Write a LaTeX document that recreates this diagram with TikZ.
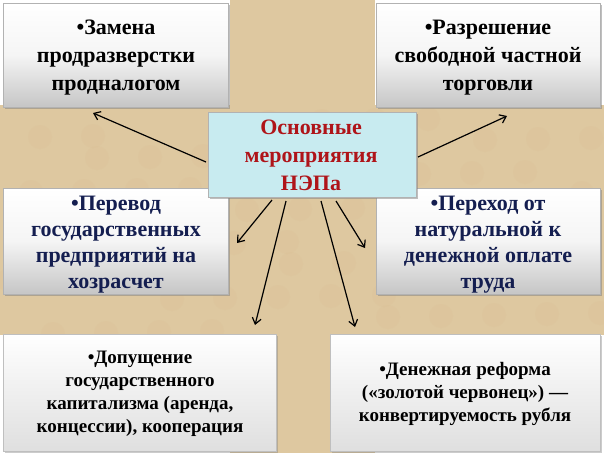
\documentclass[tikz,border=0pt]{standalone}
\usepackage{fontspec}
\setmainfont{Liberation Serif}
\usetikzlibrary{shadows,arrows.meta}
\definecolor{beige}{RGB}{222,200,160}
\definecolor{navy}{RGB}{20,30,80}
\definecolor{redt}{RGB}{175,20,25}
\definecolor{cyanb}{RGB}{200,235,240}
\begin{document}
\begin{tikzpicture}[x=1pt,y=-1pt,
  box/.style={draw=gray!60,line width=0.6pt,top color=white,bottom color=gray!45,middle color=gray!8,
    drop shadow={opacity=0.5,shadow xshift=2pt,shadow yshift=-2pt}},
  lbox/.style={draw=gray!50,line width=0.6pt,top color=white,bottom color=gray!25,
    drop shadow={opacity=0.4,shadow xshift=2pt,shadow yshift=-2pt}},
  txt/.style={font=\bfseries\fontsize{22}{28}\selectfont,align=center},
  mtxt/.style={font=\bfseries\fontsize{22}{26}\selectfont,align=center,text=navy},
  stxt/.style={font=\bfseries\fontsize{19}{23}\selectfont,align=center},
  arr/.style={-{Straight Barb[length=6pt,width=9pt]},line width=1.2pt}]
\useasboundingbox (0,0) rectangle (604,453);
\fill[white] (0,0) rectangle (604,453);
\fill[beige] (230,0) rectangle (375,453);
\fill[beige] (0,105) rectangle (604,335);
\foreach \i in {1,...,60}{\fill[beige!80!brown,opacity=0.15] ({mod(\i*97,604)},{105+mod(\i*53,230)}) circle (12);}
% boxes
\path[box] (3,3) rectangle (228,107);
\path[box] (376,3) rectangle (600,107);
\path[box] (3,188) rectangle (228,294);
\path[box] (376,188) rectangle (600,294);
\path[lbox] (3,334) rectangle (276,451);
\path[lbox] (330,334) rectangle (600,451);
\path[draw=gray!60,fill=cyanb,drop shadow={opacity=0.5,shadow xshift=2pt,shadow yshift=-2pt}] (208,112) rectangle (416,197);
% texts
\node[txt] (tl) at (116,58) {•Замена\\продразверстки\\продналогом};
\node[txt] (tr) at (488,58) {•Разрешение\\свободной частной\\торговли};
\node[mtxt] (ml) at (116,245) {•Перевод\\государственных\\предприятий на\\хозрасчет};
\node[mtxt] (mr) at (488,245) {•Переход от\\натуральной к\\денежной оплате\\труда};
\node[stxt] (bl) at (140,394) {•Допущение\\государственного\\капитализма (аренда,\\концессии), кооперация};
\node[stxt] (br) at (465,394) {•Денежная реформа\\(«золотой червонец») —\\конвертируемость рубля};
\node[txt,text=redt] (c) at (311,155) {Основные\\мероприятия\\НЭПа};
% arrows
\coordinate (a1) at (206,162); \coordinate (b1) at (93,113);
\coordinate (a2) at (418,157); \coordinate (b2) at (507,116);
\coordinate (a3) at (272,200); \coordinate (b3) at (237,243);
\coordinate (a4) at (286,201); \coordinate (b4) at (255,325);
\coordinate (a5) at (321,201); \coordinate (b5) at (355,327);
\coordinate (a6) at (336,201); \coordinate (b6) at (365,248);
\foreach \k in {1,...,6}{\draw[arr] (a\k) -- (b\k);}
\end{tikzpicture}
\end{document}
